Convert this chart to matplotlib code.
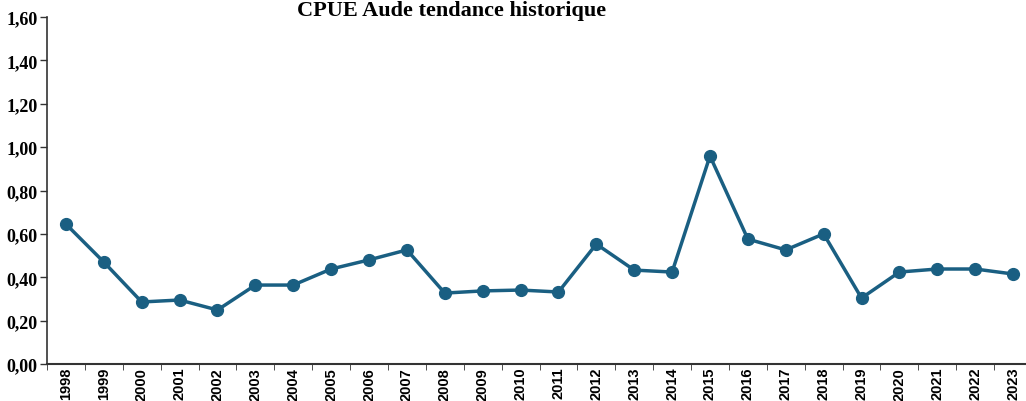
import matplotlib
matplotlib.use("Agg")
import matplotlib.pyplot as plt
from matplotlib import font_manager
from matplotlib.ticker import FuncFormatter, FixedLocator

years = [str(y) for y in range(1998, 2024)]
cpue = [0.645, 0.47, 0.286, 0.295, 0.249, 0.364, 0.364, 0.438, 0.48, 0.526,
        0.327, 0.337, 0.341, 0.332, 0.553, 0.433, 0.424, 0.959, 0.576, 0.526,
        0.600, 0.304, 0.424, 0.438, 0.438, 0.415]
yticks = [0.0, 0.2, 0.4, 0.6, 0.8, 1.0, 1.2, 1.4, 1.6]

color = "#1a5f82"

# pick a narrow font for the year labels if one is available
names = {f.name for f in font_manager.fontManager.ttflist}
narrow = "Liberation Sans Narrow" if "Liberation Sans Narrow" in names else (
    "DejaVu Sans Condensed" if "DejaVu Sans Condensed" in names else "Liberation Sans")

fig = plt.figure(figsize=(10.26, 4.02), dpi=100)
ax = fig.add_axes([47 / 1026, 37 / 402, 985 / 1026, 347 / 402])

x = list(range(len(years)))
ax.plot(x, cpue, color=color, lw=2.5, marker="o", ms=8.5, mfc=color, mec=color)

ax.set_xlim(-0.5, len(years) - 0.5)
ax.set_ylim(0, 1.6)
ax.set_yticks(yticks)
ax.yaxis.set_major_formatter(FuncFormatter(lambda v, p: f"{v:.2f}".replace(".", ",")))

# labels at category centres, ticks at boundaries
ax.set_xticks(x)
size = 11.5 if narrow == "Liberation Sans Narrow" else 10.5
ax.set_xticklabels(years, rotation=90, fontsize=size, fontweight="bold", family=narrow)
ax.tick_params(axis="x", length=0, pad=2)
ax.xaxis.set_minor_locator(FixedLocator([i + 0.5 for i in range(-1, len(years))]))
ax.tick_params(axis="x", which="minor", length=4, direction="out", color="#333333")

for lab in ax.get_yticklabels():
    lab.set_family("Liberation Serif")
    lab.set_fontweight("bold")
    lab.set_fontsize(13)
ax.tick_params(axis="y", length=5, width=1, color="#333333", pad=2)

ax.spines["top"].set_visible(False)
ax.spines["right"].set_visible(False)
ax.spines["left"].set_color("#333333")
ax.spines["bottom"].set_color("#333333")
ax.spines["left"].set_linewidth(1.2)
ax.spines["bottom"].set_linewidth(1.5)

fig.text(452 / 1026, 1 - 11 / 402, "CPUE Aude tendance historique", ha="center", va="center",
         fontsize=16, fontweight="bold", family="Liberation Serif")

fig.savefig("out.png", dpi=100)
